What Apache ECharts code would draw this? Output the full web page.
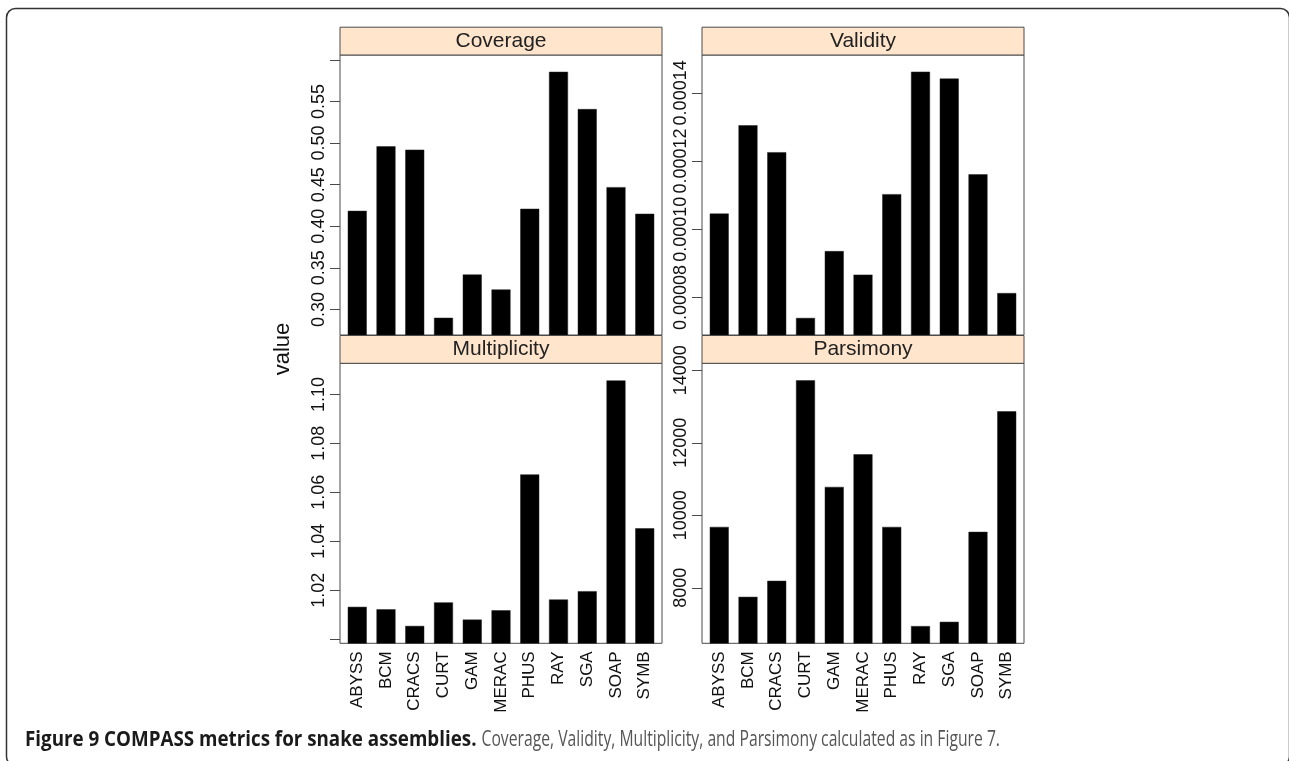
<!DOCTYPE html>
<html>
<head>
<meta charset="utf-8">
<script src="https://cdn.jsdelivr.net/npm/echarts@6/dist/echarts.min.js"></script>
<style>
html,body{margin:0;padding:0;background:#fff;}
#chart{width:1289px;height:761px;}
</style>
</head>
<body>
<div id="chart"></div>
<script>
const categories = ['ABYSS','BCM','CRACS','CURT','GAM','MERAC','PHUS','RAY','SGA','SOAP','SYMB'];

const coverage = [0.4185, 0.496, 0.492, 0.290, 0.342, 0.324, 0.421, 0.5856, 0.5408, 0.447, 0.415];
const validity = [0.0001046, 0.0001305, 0.0001226, 0.0000740, 0.0000936, 0.0000867, 0.0001103, 0.0001462, 0.0001442, 0.0001161, 0.0000813];
const multiplicity = [1.0132, 1.0122, 1.0054, 1.0150, 1.0080, 1.0118, 1.0673, 1.0162, 1.0196, 1.1057, 1.0453];
const parsimony = [9680, 7752, 8193, 13722, 10783, 11683, 9680, 6945, 7063, 9543, 12868];

const coverageTicks = [0.30, 0.35, 0.40, 0.45, 0.50, 0.55, 0.60];
const coverageLabels = [0.30, 0.35, 0.40, 0.45, 0.50, 0.55];
const validityTicks = [0.00008, 0.00010, 0.00012, 0.00014];
const validityLabels = [0.00008, 0.00010, 0.00012, 0.00014];
const multiplicityTicks = [1.00, 1.02, 1.04, 1.06, 1.08, 1.10];
const multiplicityLabels = [1.02, 1.04, 1.06, 1.08, 1.10];
const parsimonyTicks = [8000, 10000, 12000, 14000];
const parsimonyLabels = [8000, 10000, 12000, 14000];

const panelTitles = ['Coverage', 'Validity', 'Multiplicity', 'Parsimony'];
const captionBold = 'Figure 9 COMPASS metrics for snake assemblies.';
const captionText = 'Coverage, Validity, Multiplicity, and Parsimony calculated as in Figure 7.';

const FONT = "'Liberation Sans', Arial, Helvetica, sans-serif";
const CAPFONT = "'Open Sans', 'Noto Sans', sans-serif";
const LINE = '#4a4a4a';

const panels = [
  {values: coverage, ticks: coverageTicks, labels: coverageLabels, min: 0.2693, max: 0.6058, fmt: v => v.toFixed(2), left: 340, top: 55, bottomRow: false},
  {values: validity, ticks: validityTicks, labels: validityLabels, min: 0.0000690, max: 0.0001511, fmt: v => v.toFixed(5), left: 702, top: 55, bottomRow: false},
  {values: multiplicity, ticks: multiplicityTicks, labels: multiplicityLabels, min: 0.9983, max: 1.1127, fmt: v => v.toFixed(2), left: 340, top: 363.3, bottomRow: true},
  {values: parsimony, ticks: parsimonyTicks, labels: parsimonyLabels, min: 6470, max: 14192, fmt: v => String(Math.round(v)), left: 702, top: 363.3, bottomRow: true}
];
const PW = 322, PH = 280, STRIP = 27.8;
const xPositions = categories.map((c, i) => i + 1);

const grids = [], xAxes = [], yAxes = [], series = [], graphics = [];

panels.forEach((p, k) => {
  grids.push({left: p.left, top: p.top, width: PW, height: PH, show: true,
    borderColor: LINE, borderWidth: 1, backgroundColor: 'transparent', containLabel: false});
  xAxes.push({
    gridIndex: k, type: 'value', min: 0.4, max: 11.6,
    splitLine: {show: false}, axisLine: {show: false}, axisTick: {show: false},
    axisLabel: {
      show: p.bottomRow, customValues: xPositions, rotate: 90, margin: 8,
      fontSize: 17, fontFamily: FONT, color: '#111', showMinLabel: true, showMaxLabel: true,
      formatter: v => categories[Math.round(v) - 1] || ''
    }
  });
  yAxes.push({
    gridIndex: k, type: 'value', min: p.min, max: p.max,
    splitLine: {show: false}, axisLine: {show: false},
    axisTick: {show: true, customValues: p.ticks, length: 10, inside: false, lineStyle: {color: LINE, width: 1}},
    axisLabel: {
      customValues: p.labels, rotate: 90, margin: 12, fontSize: 18, fontFamily: FONT, color: '#111',
      formatter: p.fmt, hideOverlap: false, showMinLabel: true, showMaxLabel: true
    }
  });
  series.push({
    type: 'bar', xAxisIndex: k, yAxisIndex: k, clip: true, barWidth: 19,
    itemStyle: {color: '#000', borderColor: '#222', borderWidth: 0.5},
    data: p.values.map((v, i) => [xPositions[i], v]),
    animation: false
  });
  graphics.push({
    type: 'rect', z: 10,
    shape: {x: p.left, y: p.top - STRIP, width: PW, height: STRIP},
    style: {fill: '#ffe5cc', stroke: LINE, lineWidth: 1}
  });
  graphics.push({
    type: 'text', z: 11, x: p.left + PW / 2, y: p.top - STRIP / 2,
    style: {text: panelTitles[k], fontSize: 21, fontFamily: FONT, fill: '#222', align: 'center', verticalAlign: 'middle'}
  });
});

graphics.push({
  type: 'text', x: 283, y: 349, rotation: Math.PI / 2,
  style: {text: 'value', fontSize: 22, fontFamily: FONT, fill: '#111', align: 'center', verticalAlign: 'middle'}
});
graphics.push({
  type: 'rect', z: 0,
  shape: {x: 6.5, y: 8.5, width: 1283, height: 757, r: 9},
  style: {fill: 'none', stroke: '#333', lineWidth: 1.5}
});

// caption: measure natural widths and condense to the reference widths
const mctx = document.createElement('canvas').getContext('2d');
mctx.font = "bold 21px " + CAPFONT;
const boldW = mctx.measureText(captionBold).width;
mctx.font = "21px " + CAPFONT;
const regW = mctx.measureText(captionText).width;
const boldX0 = 25, boldX1 = 476.5, regX0 = 481.5, regX1 = 1000;

graphics.push({
  type: 'text', x: boldX0, y: 740, scaleX: (boldX1 - boldX0) / boldW,
  style: {text: captionBold, fontSize: 21, fontWeight: 'bold', fontFamily: CAPFONT, fill: '#1a1a1a', align: 'left', verticalAlign: 'middle'}
});
graphics.push({
  type: 'text', x: regX0, y: 740, scaleX: (regX1 - regX0) / regW,
  style: {text: captionText, fontSize: 21, fontFamily: CAPFONT, fill: '#555', align: 'left', verticalAlign: 'middle'}
});

const chart = echarts.init(document.getElementById('chart'), null, {renderer: 'canvas'});
chart.setOption({
  animation: false,
  backgroundColor: '#fff',
  grid: grids,
  xAxis: xAxes,
  yAxis: yAxes,
  series: series,
  graphic: graphics
});
</script>
</body>
</html>
